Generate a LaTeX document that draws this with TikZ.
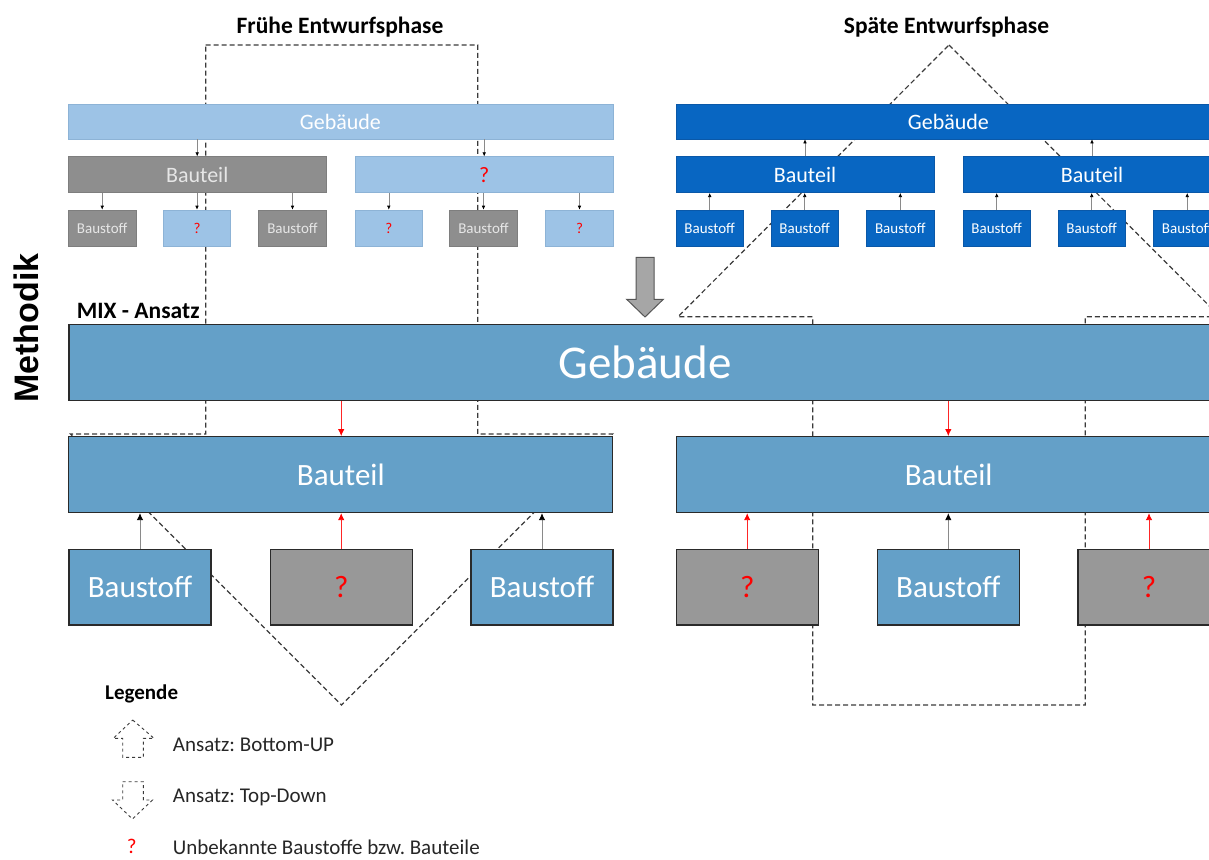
\documentclass[tikz,border=0pt]{standalone}
\usepackage{fontspec}
\setmainfont{Carlito}
\newfontfamily\methfont{Liberation Sans}
\usetikzlibrary{arrows.meta}
\frenchspacing

\definecolor{eblue}{HTML}{9DC3E6}
\definecolor{eblueline}{HTML}{8DB3D6}
\definecolor{egray}{HTML}{8E8E8E}
\definecolor{egrayline}{HTML}{7E7E7E}
\definecolor{egraytext}{HTML}{E6E6E6}
\definecolor{lblue}{HTML}{0866C2}
\definecolor{lblueline}{HTML}{0A58A8}
\definecolor{mblue}{HTML}{64A0C8}
\definecolor{mgray}{HTML}{989898}
\definecolor{mline}{HTML}{2A2A2A}
\definecolor{dashc}{HTML}{3A3A3A}
\definecolor{thinline}{HTML}{8A8A8A}
\definecolor{bigarrow}{HTML}{A6A6A6}
\definecolor{bigarrowline}{HTML}{555555}
\definecolor{legtext}{HTML}{262626}

\begin{document}
\begin{tikzpicture}[x=1pt,y=-1pt,
  fs15/.style={font=\fontsize{15}{17}\selectfont},
  fs21/.style={font=\fontsize{21}{24}\selectfont},
  fs22/.style={font=\fontsize{22}{25}\selectfont},
  fs31/.style={font=\fontsize{31}{35}\selectfont},
  fs47/.style={font=\fontsize{47}{52}\selectfont},
  title/.style={font=\fontsize{23.5}{26}\selectfont\bfseries, text=black},
  box/.style={rectangle, inner sep=0pt, anchor=center},
  eboxb/.style={box, fill=eblue, draw=eblueline, line width=0.6pt, text=white},
  eboxg/.style={box, fill=egray, draw=egrayline, line width=0.6pt, text=egraytext},
  lbox/.style={box, fill=lblue, draw=lblueline, line width=0.6pt, text=white},
  mboxb/.style={box, fill=mblue, draw=mline, line width=1.3pt, text=white},
  mboxg/.style={box, fill=mgray, draw=mline, line width=1.3pt, text=red},
  widebar/.style={minimum width=545pt, minimum height=35pt},
  midbar/.style={minimum width=258pt, minimum height=36pt},
  smallbox/.style={minimum width=67.5pt, minimum height=36pt},
  tarr/.style={draw=thinline, line width=0.6pt, -{Latex[length=4pt,width=3.6pt,color=black]}},
  marr/.style={draw=thinline, line width=0.9pt, -{Latex[length=7pt,width=6.5pt,color=black]}},
  rarr/.style={draw=red!85, line width=0.9pt, -{Latex[length=7pt,width=6.5pt,color=red]}},
  dashline/.style={draw=dashc, line width=1.2pt, dash pattern=on 5pt off 3pt},
  legdash/.style={draw=dashc, line width=0.9pt, dash pattern=on 3pt off 3pt}
]
\useasboundingbox (0,0) rectangle (1209,859);
\clip (0,0) rectangle (1209,859);

% ---- approach outlines (behind the boxes) ----
% top-down: stem from the early phase, head over the left MIX group
\draw[dashline] (205.7,45) -- (477.8,45) -- (477.8,434) -- (612.6,434)
  -- (341.5,705) -- (70.5,434) -- (205.7,434) -- cycle;
% bottom-up: stem from the right MIX group, head reaching the late phase
\draw[dashline] (949,45) -- (1220,316.7) -- (1085.3,316.7) -- (1085.3,705)
  -- (812.8,705) -- (812.8,316.7) -- (678,316.7) -- cycle;

% ---- titles ----
\node[title] (t1) at (340,27.5) {Frühe Entwurfsphase};
\node[title] (t2) at (946.5,27.5) {Späte Entwurfsphase};
\node[font=\methfont\fontsize{34}{37}\selectfont\bfseries, rotate=90] (meth) at (26.7,328) {Methodik};

% ---- early design phase ----
\node[eboxb, widebar, fs22] (eG) at (340.4,121.5) {Gebäude};
\node[eboxg, midbar, fs22] (eB1) at (197.2,174.7) {Bauteil};
\node[eboxb, midbar, fs22, text=red] (eB2) at (484.2,174.7) {?};
\node[eboxg, smallbox, fs15] (es1) at (102.2,228) {Baustoff};
\node[eboxb, smallbox, fs15, text=red] (es2) at (197,228) {?};
\node[eboxg, smallbox, fs15] (es3) at (292.5,228) {Baustoff};
\node[eboxb, smallbox, fs15, text=red] (es4) at (388.8,228) {?};
\node[eboxg, smallbox, fs15] (es5) at (483.5,228) {Baustoff};
\node[eboxb, smallbox, fs15, text=red] (es6) at (579.5,228) {?};
\foreach \c in {eB1,eB2} \draw[tarr] (eG.south -| \c.north) -- (\c.north);
\foreach \c in {es1,es2,es3} \draw[tarr] (eB1.south -| \c.north) -- (\c.north);
\foreach \c in {es4,es5,es6} \draw[tarr] (eB2.south -| \c.north) -- (\c.north);

% ---- late design phase ----
\node[lbox, widebar, fs22] (lG) at (948.4,121.5) {Gebäude};
\node[lbox, midbar, fs22] (lB1) at (805,174.7) {Bauteil};
\node[lbox, midbar, fs22] (lB2) at (1092,174.7) {Bauteil};
\node[lbox, smallbox, fs15] (ls1) at (709.7,228) {Baustoff};
\node[lbox, smallbox, fs15] (ls2) at (804.7,228) {Baustoff};
\node[lbox, smallbox, fs15] (ls3) at (900.3,228) {Baustoff};
\node[lbox, smallbox, fs15] (ls4) at (996.7,228) {Baustoff};
\node[lbox, smallbox, fs15] (ls5) at (1091.7,228) {Baustoff};
\node[lbox, smallbox, fs15] (ls6) at (1187.2,228) {Baustoff};
\foreach \c in {lB1,lB2} \draw[tarr] (\c.north) -- (lG.south -| \c.north);
\foreach \c in {ls1,ls2,ls3} \draw[tarr] (\c.north) -- (lB1.south -| \c.north);
\foreach \c in {ls4,ls5,ls6} \draw[tarr] (\c.north) -- (lB2.south -| \c.north);

% ---- transition arrow ----
\draw[fill=bigarrow, draw=bigarrowline, line width=1pt]
  (636,257.3) -- (654,257.3) -- (654,299.3) -- (663.3,299.3) -- (645,317)
  -- (626.7,299.3) -- (636,299.3) -- cycle;

% ---- MIX approach ----
\node[font=\fontsize{23.5}{26}\selectfont\bfseries, anchor=base west, inner sep=0pt] (mix) at (76.7,318) {MIX - Ansatz};
\node[mboxb, minimum width=1152pt, minimum height=76.4pt, fs47] (mG) at (645,362.5) {Gebäude};
\node[mboxb, minimum width=544pt, minimum height=75.8pt, fs31] (mB1) at (340.8,474.6) {Bauteil};
\node[mboxb, minimum width=544pt, minimum height=75.8pt, fs31] (mB2) at (948.7,474.6) {Bauteil};
\node[mboxb, minimum width=142pt, minimum height=75.7pt, fs31] (mS1) at (140,587.2) {Baustoff};
\node[mboxg, minimum width=142pt, minimum height=75.7pt, fs31] (mS2) at (341.2,587.2) {?};
\node[mboxb, minimum width=142pt, minimum height=75.7pt, fs31] (mS3) at (542,587.2) {Baustoff};
\node[mboxg, minimum width=142pt, minimum height=75.7pt, fs31] (mS4) at (747.2,587.2) {?};
\node[mboxb, minimum width=142pt, minimum height=75.7pt, fs31] (mS5) at (948.3,587.2) {Baustoff};
\node[mboxg, minimum width=142pt, minimum height=75.7pt, fs31] (mS6) at (1149,587.2) {?};
\draw[rarr] (mG.south -| mS2.north) -- (mS2.north |- mB1.north);
\draw[rarr] (mG.south -| mS5.north) -- (mS5.north |- mB2.north);
\foreach \c in {mS1,mS3} \draw[marr] (\c.north) -- (\c.north |- mB1.south);
\draw[rarr] (mS2.north) -- (mS2.north |- mB1.south);
\draw[rarr] (mS4.north) -- (mS4.north |- mB2.south);
\draw[marr] (mS5.north) -- (mS5.north |- mB2.south);
\draw[rarr] (mS6.north) -- (mS6.north |- mB2.south);

% ---- legend ----
\node[font=\fontsize{21}{24}\selectfont\bfseries, anchor=west, inner sep=0pt] (leg) at (105,694) {Legende};
\draw[legdash] (132.7,720) -- (154,738.3) -- (143.3,738.3) -- (143.3,757.3)
  -- (122.7,757.3) -- (122.7,738.3) -- (113.3,738.3) -- cycle;
\node[fs21, text=legtext, anchor=west, inner sep=0pt] (l1) at (172.7,745) {Ansatz: Bottom-UP};
\draw[legdash] (122.7,781.7) -- (143.3,781.7) -- (143.3,800) -- (152.5,800)
  -- (132.5,819) -- (112.5,800) -- (122.7,800) -- cycle;
\node[fs21, text=legtext, anchor=west, inner sep=0pt] (l2) at (172.7,797) {Ansatz: Top-Down};
\node[fs21, text=red, inner sep=0pt] (l3q) at (131.7,846) {?};
\node[fs21, text=legtext, anchor=west, inner sep=0pt] (l3) at (172.7,847) {Unbekannte Baustoffe bzw. Bauteile};
\end{tikzpicture}
\end{document}
